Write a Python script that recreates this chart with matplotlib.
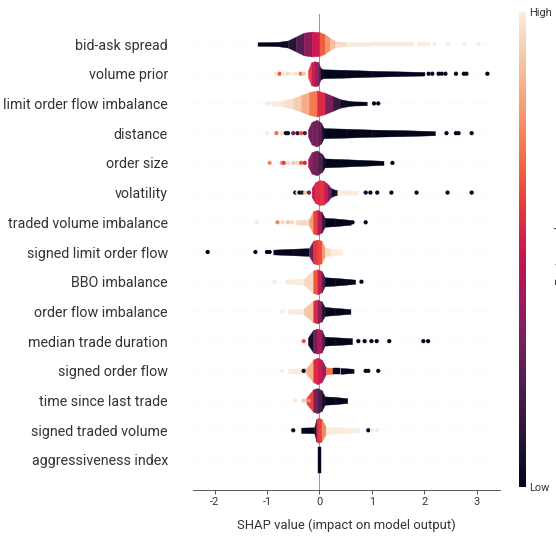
import matplotlib
matplotlib.use("Agg")
import matplotlib.pyplot as plt
import matplotlib.colorbar as mcolorbar
import matplotlib.colors as mcolors
import seaborn as sns

plt.rcParams['font.family'] = ['Roboto', 'DejaVu Sans']
plt.rcParams['axes.unicode_minus'] = False

features = [
    "bid-ask spread", "volume prior", "limit order flow imbalance", "distance",
    "order size", "volatility", "traded volume imbalance",
    "signed limit order flow", "BBO imbalance", "order flow imbalance",
    "median trade duration", "signed order flow", "time since last trade",
    "signed traded volume", "aggressiveness index",
]

# dense part of each swarm: SHAP value at each knot, half thickness (rows),
# and the feature value (0 low .. 1 high) of the span after each knot
body_x = [
    [-1.18, -0.8, -0.6, -0.45, -0.3, -0.15, 0.0, 0.1, 0.2, 0.3, 0.5, 1.0, 1.8],
    [-0.22, -0.16, -0.1, -0.03, 0.02, 0.06, 0.5, 1.0, 1.5, 2.0],
    [-0.9, -0.7, -0.5, -0.35, -0.2, -0.05, 0.1, 0.25, 0.4, 0.55, 0.65, 0.9],
    [-0.22, -0.15, -0.05, 0.03, 0.08, 0.5, 1.0, 1.6, 2.2],
    [-0.22, -0.15, -0.05, 0.05, 0.1, 0.4, 0.8, 1.22],
    [-0.15, -0.08, 0.0, 0.08, 0.15, 0.22, 0.3, 0.34, 0.74],
    [-0.45, -0.2, -0.12, -0.04, 0.04, 0.1, 0.3, 0.6],
    [-0.88, -0.5, -0.2, -0.12, -0.04, 0.04, 0.1, 0.2, 0.43],
    [-0.65, -0.3, -0.12, -0.04, 0.04, 0.1, 0.3, 0.5, 0.68],
    [-0.6, -0.3, -0.12, -0.04, 0.04, 0.1, 0.3, 0.59],
    [-0.22, -0.12, -0.04, 0.04, 0.1, 0.3, 0.62],
    [-0.6, -0.25, -0.12, -0.04, 0.04, 0.12, 0.25, 0.4, 0.65],
    [-0.25, -0.12, -0.04, 0.04, 0.1, 0.3, 0.53],
    [-0.35, -0.1, -0.06, -0.02, 0.04, 0.12, 0.4, 0.75],
    [-0.035, 0.035],
]
body_h = [
    [0.06, 0.07, 0.12, 0.25, 0.38, 0.42, 0.4, 0.33, 0.2, 0.1, 0.07, 0.06, 0.06],
    [0.12, 0.38, 0.42, 0.4, 0.2, 0.15, 0.13, 0.1, 0.08, 0.06],
    [0.07, 0.1, 0.18, 0.28, 0.38, 0.44, 0.36, 0.25, 0.14, 0.09, 0.07, 0.06],
    [0.12, 0.38, 0.45, 0.35, 0.17, 0.15, 0.12, 0.1, 0.07],
    [0.12, 0.36, 0.42, 0.3, 0.15, 0.13, 0.1, 0.07],
    [0.15, 0.35, 0.42, 0.4, 0.3, 0.15, 0.09, 0.08, 0.07],
    [0.07, 0.1, 0.38, 0.42, 0.35, 0.15, 0.13, 0.08],
    [0.08, 0.11, 0.13, 0.38, 0.42, 0.38, 0.15, 0.12, 0.08],
    [0.07, 0.1, 0.38, 0.42, 0.36, 0.15, 0.13, 0.1, 0.07],
    [0.07, 0.1, 0.36, 0.4, 0.34, 0.15, 0.12, 0.08],
    [0.12, 0.38, 0.42, 0.38, 0.15, 0.13, 0.1],
    [0.07, 0.1, 0.38, 0.45, 0.38, 0.12, 0.1, 0.1, 0.07],
    [0.1, 0.38, 0.42, 0.35, 0.14, 0.12, 0.08],
    [0.09, 0.1, 0.38, 0.42, 0.38, 0.12, 0.1, 0.07],
    [0.44, 0.44],
]
body_c = [
    [0.0, 0.03, 0.1, 0.22, 0.36, 0.5, 0.66, 0.78, 0.88, 0.96, 1.0, 1.0],
    [0.6, 0.5, 0.42, 0.25, 0.03, 0.0, 0.0, 0.0, 0.0],
    [1.0, 0.97, 0.92, 0.84, 0.72, 0.55, 0.32, 0.15, 0.04, 0.0, 0.0],
    [0.3, 0.3, 0.25, 0.08, 0.0, 0.0, 0.0, 0.0],
    [0.4, 0.3, 0.22, 0.05, 0.0, 0.0, 0.0],
    [0.5, 0.55, 0.58, 0.5, 0.3, 0.05, 0.02, 1.0],
    [0.95, 0.8, 0.6, 0.45, 0.15, 0.0, 0.0],
    [0.0, 0.02, 0.3, 0.58, 0.62, 0.8, 0.95, 1.0],
    [1.0, 0.95, 0.65, 0.5, 0.2, 0.0, 0.0, 0.0],
    [1.0, 0.9, 0.55, 0.35, 0.1, 0.0, 0.0],
    [0.05, 0.3, 0.45, 0.2, 0.0, 0.0],
    [1.0, 0.85, 0.55, 0.5, 0.4, 0.7, 0.02, 0.0],
    [0.6, 0.3, 0.2, 0.05, 0.0, 0.0],
    [0.0, 0.05, 0.55, 0.6, 0.75, 1.0, 1.0],
    [0.0],
]

# isolated samples outside the dense part: SHAP value and feature value
dots_x = [
    [1.9, 1.96, 2.02, 2.08, 2.19, 2.45, 2.76, 3.03],
    [-0.84, -0.76, -0.69, -0.61, -0.55, -0.46, -0.36, -0.3,
     2.08, 2.15, 2.27, 2.33, 2.4, 2.6, 2.75, 2.8, 3.2],
    [-1.0, -0.95, 1.04, 1.12],
    [-1.0, -0.82, -0.71, -0.64, -0.6, -0.5, -0.42, -0.35, -0.28,
     2.42, 2.6, 2.65, 2.9],
    [-0.95, -0.72, -0.68, -0.6, -0.5, -0.42, -0.35, -0.28, 1.39],
    [-0.46, -0.42, -0.38, -0.33, -0.27, -0.2,
     0.88, 0.97, 1.1, 1.37, 1.85, 2.44, 2.9],
    [-1.2, -0.8, -0.7, -0.6, -0.52, 0.63, 0.88],
    [-2.13, -1.22, -1.0, -0.95],
    [-0.86, 0.8],
    [-0.72],
    [-0.3, 0.74, 0.86, 0.99, 1.09, 1.33, 1.98, 2.07],
    [-0.72, -0.3, 0.88, 0.93, 1.12],
    [-0.46, -0.3, -0.2],
    [-0.5, 0.93, 1.0, 1.1],
    [],
]
dots_c = [
    [1.0, 1.0, 1.0, 1.0, 1.0, 1.0, 1.0, 1.0],
    [1.0, 0.65, 1.0, 0.95, 1.0, 0.97, 0.7, 0.9,
     0, 0, 0, 0, 0, 0, 0, 0, 0],
    [1.0, 1.0, 0, 0],
    [1.0, 0.7, 0.95, 0.02, 0.05, 0.3, 0.1, 0.65, 0.2, 0, 0, 0, 0],
    [0.75, 0.8, 0.6, 0.95, 0.9, 0.95, 0.65, 0.55, 0],
    [0, 0.97, 0, 0.1, 0.9, 0.3, 1, 1, 1, 1, 1, 1, 1],
    [1.0, 0.75, 0.95, 0.9, 0.95, 0, 0],
    [0, 0, 0, 0],
    [1.0, 0],
    [1.0],
    [0.65, 0, 0, 0, 0, 0, 0, 0],
    [1.0, 0, 0, 0, 0],
    [1.0, 0.9, 0.75],
    [0, 0, 1.0, 1.0],
    [],
]

xticks = [-2, -1, 0, 1, 2, 3]

cmap = sns.color_palette("rocket", as_cmap=True)
axis_color = "#333333"

fig = plt.figure(figsize=(556 / 72, 544 / 72), dpi=72)
ax = fig.add_axes([0.3471, 0.0998, 0.5522, 0.8739])

n = len(features)
ax.axvline(0, color="#999999", lw=1, zorder=-1)
for i, name in enumerate(features):
    y = n - 1 - i
    ax.axhline(y, color="#cccccc", lw=0.5, dashes=(1, 5), zorder=-1)
    xs, hs, cs = body_x[i], body_h[i], body_c[i]
    for k in range(len(xs) - 1):
        col = cmap(cs[k])
        ax.fill_between([xs[k], xs[k + 1]],
                        [y - hs[k], y - hs[k + 1]],
                        [y + hs[k], y + hs[k + 1]],
                        color=col, lw=0.4, zorder=3)
    if dots_x[i]:
        ax.scatter(dots_x[i], [y] * len(dots_x[i]),
                   color=[cmap(v) for v in dots_c[i]],
                   s=18, lw=0, zorder=4)

ax.set_xlim(-2.41, 3.44)
ax.set_ylim(-1, n)
ax.set_yticks(range(n))
ax.set_yticklabels(features[::-1], fontsize=14.3)
ax.set_xticks(xticks)
ax.set_xticklabels([str(t) for t in xticks])
ax.tick_params('x', labelsize=11, color=axis_color, labelcolor=axis_color)
ax.tick_params('y', length=0, pad=25, labelcolor=axis_color)
for side in ("left", "right", "top"):
    ax.spines[side].set_visible(False)
ax.spines["bottom"].set_color(axis_color)
ax.set_xlabel("SHAP value (impact on model output)", fontsize=13,
              color=axis_color, labelpad=12)

cax = fig.add_axes([519 / 556, 57 / 544, 7 / 556, 475 / 544])
cb = mcolorbar.ColorbarBase(cax, cmap=cmap,
                            norm=mcolors.Normalize(0, 1))
cb.set_ticks([0, 1])
cb.set_ticklabels(["Low", "High"])
cb.ax.tick_params(labelsize=11, length=0, labelcolor=axis_color)
cb.outline.set_visible(False)
cb.set_label("Feature value", size=12, labelpad=3, color=axis_color)

fig.savefig("out.png", dpi=72)
